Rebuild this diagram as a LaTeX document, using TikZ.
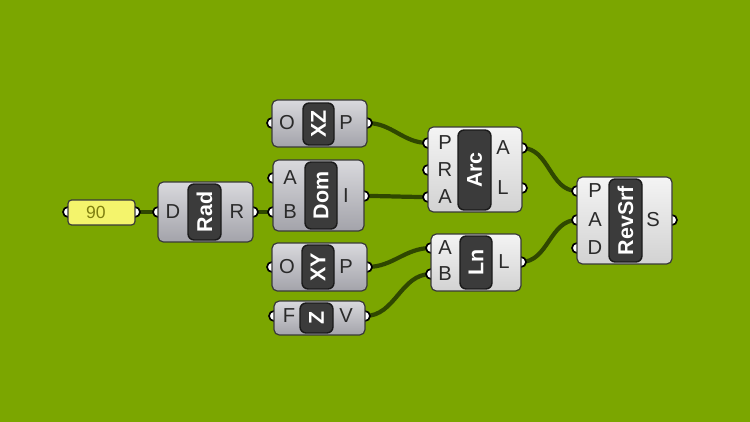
\documentclass[tikz,border=0pt]{standalone}
\usepackage{fontspec}
\setmainfont{Liberation Sans}
\usepackage{tikz}
\usetikzlibrary{positioning, calc, backgrounds}
\usepackage{xcolor}
\definecolor{CanvasGreen}{HTML}{7BA600}
\definecolor{WireDark}{HTML}{2F4700}
\definecolor{EdgeDark}{HTML}{3A3A3A}
\definecolor{CompTop}{HTML}{D9D9DD}
\definecolor{CompBot}{HTML}{A3A3AA}
\definecolor{LightTop}{HTML}{F4F4F4}
\definecolor{LightBot}{HTML}{D2D2D2}
\definecolor{PillDark}{HTML}{3B3B3B}
\definecolor{PillEdge}{HTML}{1A1A1A}
\definecolor{SliderYellow}{HTML}{F4F46C}
\definecolor{SliderText}{HTML}{7F7F10}
\definecolor{PortText}{HTML}{2A2A2A}
\pgfdeclarelayer{wires}
\pgfsetlayers{background,wires,main}
\tikzset{
    comp/.style={rectangle, draw=EdgeDark, line width=0.7pt, rounded corners=3pt, top color=CompTop, bottom color=CompBot, inner sep=0pt},
    comp_w/.style={comp, top color=LightTop, bottom color=LightBot},
    slider/.style={rectangle, draw=EdgeDark, line width=0.7pt, rounded corners=2pt, fill=SliderYellow, inner sep=0pt},
    pill/.style={rectangle, draw=PillEdge, fill=PillDark, line width=0.8pt, rounded corners=3.5pt, rotate=90, text=white, font=\bfseries\fontsize{12.2}{13}\selectfont, inner sep=0pt},
    port/.style={font=\fontsize{11.5}{13}\selectfont, text=PortText, inner sep=0pt},
    wire/.style={line width=2.4pt, draw=WireDark},
    grip/.style={draw=black, fill=white, line width=0.95pt},
}

\begin{document}
\begin{tikzpicture}[x=0.02cm, y=-0.02cm]
\begin{pgfonlayer}{background}
\fill[CanvasGreen] (0,0) rectangle (750,422);
\end{pgfonlayer}
\useasboundingbox (0,0) rectangle (750,422);

% slider
\node[slider, minimum width=1.34cm, minimum height=0.5cm] (sld) at (101.5,212.5) {};
\node[font=\fontsize{10}{11}\selectfont, text=SliderText] (sldval) at (96,212.5) {90};
% Rad
\node[comp, minimum width=1.9cm, minimum height=1.2cm] (rad) at (205.5,212) {};
\node[pill, minimum width=1.12cm, minimum height=0.66cm] (radp) at (204.5,212) {Rad};
% XZ plane
\node[comp, minimum width=1.9cm, minimum height=0.94cm] (xz) at (319.5,123.5) {};
\node[pill, minimum width=0.84cm, minimum height=0.62cm] (xzp) at (318.5,124) {XZ};
% Domain
\node[comp, minimum width=1.82cm, minimum height=1.42cm] (dom) at (318.5,195.5) {};
\node[pill, minimum width=1.34cm, minimum height=0.64cm] (domp) at (321,195.5) {Dom};
% XY plane
\node[comp, minimum width=1.9cm, minimum height=0.96cm] (xy) at (319.5,267) {};
\node[pill, minimum width=0.88cm, minimum height=0.64cm] (xyp) at (318,267) {XY};
% Z vector
\node[comp, minimum width=1.82cm, minimum height=0.68cm] (z) at (319.5,318) {};
\node[pill, minimum width=0.6cm, minimum height=0.66cm] (zp) at (316.5,318) {Z};
% Arc
\node[comp_w, minimum width=1.88cm, minimum height=1.7cm] (arc) at (475,169.5) {};
\node[pill, minimum width=1.6cm, minimum height=0.66cm] (arcp) at (474.5,170) {Arc};
% Line
\node[comp_w, minimum width=1.8cm, minimum height=1.14cm] (ln) at (476,262.5) {};
\node[pill, minimum width=1.06cm, minimum height=0.64cm] (lnp) at (476,262.5) {Ln};
% RevSrf
\node[comp_w, minimum width=1.9cm, minimum height=1.74cm] (rev) at (624.5,220.5) {};
\node[pill, minimum width=1.66cm, minimum height=0.66cm] (revp) at (625.5,220.5) {RevSrf};

% port letters
\foreach \n/\x/\y/\t in {radD/173/212/D, radR/237/212/R,
    xzO/287/123/O, xzP/346/123/P,
    domA/290/178/A, domB/290/212/B, domI/346/196/I,
    xyO/287/267/O, xyP/346/267/P,
    zF/289/316/F, zV/346/316/V,
    arcP/445/143/P, arcR/445/170/R, arcA/445/197/A, arcoA/503/148/A, arcoL/503/188/L,
    lnA/445/248/A, lnB/445/274/B, lnL/504/262/L,
    revP/595/191/P, revA/595/220/A, revD/595/248/D, revS/653/220/S}
    \node[port] (t-\n) at (\x,\y) {\t};

% grips
\coordinate (g-sldL) at (68,212);
\coordinate (g-sldR) at (135,212);
\coordinate (g-radD) at (158,212);
\coordinate (g-radR) at (253,212);
\coordinate (g-xzO) at (272,123);
\coordinate (g-xzP) at (367,123);
\coordinate (g-domA) at (273,178);
\coordinate (g-domB) at (273,212);
\coordinate (g-domI) at (364,196);
\coordinate (g-xyO) at (272,267);
\coordinate (g-xyP) at (367,267);
\coordinate (g-zF) at (274,316);
\coordinate (g-zV) at (365,316);
\coordinate (g-arcP) at (428,143);
\coordinate (g-arcR) at (428,170);
\coordinate (g-arcA) at (428,197);
\coordinate (g-arcoA) at (522,148);
\coordinate (g-arcoL) at (522,188);
\coordinate (g-lnA) at (431,248);
\coordinate (g-lnB) at (431,274);
\coordinate (g-lnL) at (521,262);
\coordinate (g-revP) at (577,191);
\coordinate (g-revA) at (577,220);
\coordinate (g-revD) at (577,248);
\coordinate (g-revS) at (672,220);

\begin{pgfonlayer}{wires}
% wires
\draw[wire] (g-sldR) -- (g-radD);
\draw[wire] (g-radR) -- (g-domB);
\draw[wire] (g-xzP) to[out=0, in=180] (g-arcP);
\draw[wire] (g-domI) to[out=0, in=180] (g-arcA);
\draw[wire] (g-xyP) to[out=0, in=180] (g-lnA);
\draw[wire] (g-zV) to[out=0, in=180] (g-lnB);
\draw[wire] (g-arcoA) to[out=0, in=180] (g-revP);
\draw[wire] (g-lnL) to[out=0, in=180] (g-revA);
% grip circles
\foreach \g in {sldL,sldR,radD,radR,xzO,xzP,domA,domB,domI,xyO,xyP,zF,zV,
    arcP,arcR,arcA,arcoA,arcoL,lnA,lnB,lnL,revP,revA,revD,revS}
    \draw[grip] (g-\g) circle (0.1cm);
\end{pgfonlayer}
\end{tikzpicture}
\end{document}
